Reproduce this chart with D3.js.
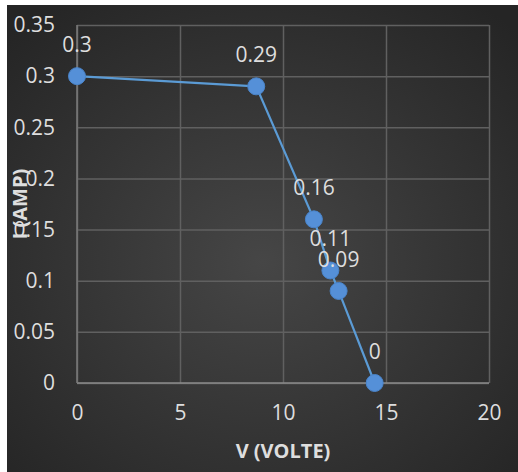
<!DOCTYPE html>
<html><head><meta charset="utf-8">
<script src="https://cdn.jsdelivr.net/npm/d3@7"></script>
<style>html,body{margin:0;padding:0;background:#fff;}svg{display:block;}</style>
</head><body>
<script>
const voltage = [0, 8.7, 11.5, 12.3, 12.7, 14.45];
const current = [0.3, 0.29, 0.16, 0.11, 0.09, 0];
const labels = ["0.3", "0.29", "0.16", "0.11", "0.09", "0"];
const xTicks = [0, 5, 10, 15, 20];
const yTicks = [0, 0.05, 0.1, 0.15, 0.2, 0.25, 0.3, 0.35];
const xTitle = "V (VOLTE)";
const yTitle = "I (AMP)";

const W = 518, H = 472;
const svg = d3.select("body").append("svg").attr("width", W).attr("height", H);
const defs = svg.append("defs");
const grad = defs.append("radialGradient").attr("id", "bg")
  .attr("cx", "50%").attr("cy", "55%").attr("r", "70%");
grad.append("stop").attr("offset", "0%").attr("stop-color", "#464646");
grad.append("stop").attr("offset", "100%").attr("stop-color", "#252525");
svg.append("rect").attr("x", 7).attr("y", 5).attr("width", W - 7).attr("height", H - 5).attr("fill", "url(#bg)");

const x = d3.scaleLinear().domain([0, 20]).range([77, 489]);
const y = d3.scaleLinear().domain([0, 0.35]).range([383, 25]);
const font = "'Open Sans', sans-serif";
const txt = "#dedede";
const grid = "#606060";
const fs = 21;

const g = svg.append("g");
g.append("g").attr("transform", `translate(0,${y(0)})`)
  .call(d3.axisBottom(x).tickValues(xTicks).tickSize(-(y(0) - y(0.35))).tickFormat(""))
  .call(s => s.select(".domain").remove())
  .call(s => s.selectAll("line").attr("stroke", grid).attr("stroke-width", 1.5));
g.append("g").attr("transform", `translate(${x(0)},0)`)
  .call(d3.axisLeft(y).tickValues(yTicks).tickSize(-(x(20) - x(0))).tickFormat(""))
  .call(s => s.select(".domain").remove())
  .call(s => s.selectAll("line").attr("stroke", grid).attr("stroke-width", 1.5));
g.append("line").attr("x1", x(0)).attr("x2", x(20)).attr("y1", y(0)).attr("y2", y(0))
  .attr("stroke", "#8a8a8a").attr("stroke-width", 1.5);
g.append("line").attr("x1", x(0)).attr("x2", x(0)).attr("y1", y(0)).attr("y2", y(0.35))
  .attr("stroke", "#7a7a7a").attr("stroke-width", 1.5);

const xa = svg.append("g").attr("transform", `translate(0,${y(0)})`)
  .call(d3.axisBottom(x).tickValues(xTicks).tickSize(0).tickPadding(22).tickFormat(d3.format("d")));
xa.select(".domain").remove();
xa.selectAll("text").attr("fill", txt).attr("font-family", font).attr("font-size", fs);
const ya = svg.append("g").attr("transform", `translate(${x(0)},0)`)
  .call(d3.axisLeft(y).tickValues(yTicks).tickSize(0).tickPadding(22).tickFormat(d => String(+d.toFixed(2))));
ya.select(".domain").remove();
ya.selectAll("text").attr("fill", txt).attr("font-family", font).attr("font-size", fs);

svg.append("text").attr("x", (x(0) + x(20)) / 2).attr("y", 458).attr("text-anchor", "middle")
  .attr("fill", txt).attr("font-family", font).attr("font-size", 20).attr("font-weight", "bold").text(xTitle);
svg.append("text").attr("transform", `translate(27,${(y(0) + y(0.35)) / 2}) rotate(-90)`).attr("text-anchor", "middle")
  .attr("fill", txt).attr("font-family", font).attr("font-size", 20).attr("font-weight", "bold").text(yTitle);

const pts = voltage.map((v, i) => ({ v, c: current[i], l: labels[i] }));
svg.append("path").datum(pts)
  .attr("d", d3.line().x(d => x(d.v)).y(d => y(d.c)))
  .attr("fill", "none").attr("stroke", "#5b9bd5").attr("stroke-width", 2.2);
svg.append("g").selectAll("circle").data(pts).join("circle")
  .attr("cx", d => x(d.v)).attr("cy", d => y(d.c)).attr("r", 8.5)
  .attr("fill", "#5590d8").attr("stroke", "#4a84c9").attr("stroke-width", 1);
svg.append("g").selectAll("text").data(pts).join("text")
  .attr("x", d => x(d.v)).attr("y", d => y(d.c) - 24).attr("text-anchor", "middle")
  .attr("fill", txt).attr("font-family", font).attr("font-size", fs).text(d => d.l);
</script>
</body></html>
